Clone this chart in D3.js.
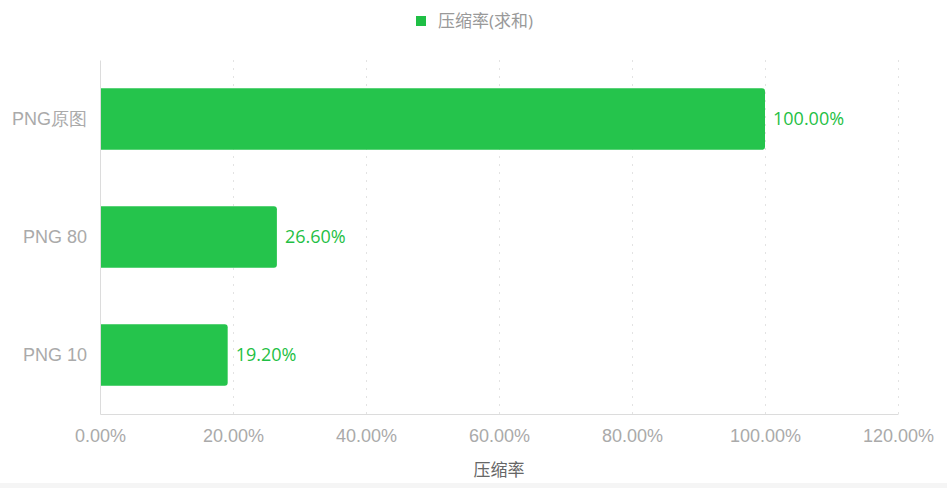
<!DOCTYPE html>
<html>
<head>
<meta charset="utf-8">
<script src="https://cdn.jsdelivr.net/npm/d3@7"></script>
<style>
  html, body { margin: 0; padding: 0; background: #fff; }
  svg { display: block; font-family: "Open Sans", "Noto Sans CJK SC", sans-serif; }
</style>
</head>
<body>
<div id="chart"></div>
<script>
var categories = ["PNG原图", "PNG 80", "PNG 10"];
var values = [100.0, 26.6, 19.2];
var tickValues = [0, 20, 40, 60, 80, 100, 120];
var seriesName = "压缩率(求和)";
var axisTitle = "压缩率";

var width = 947, height = 488;
var margin = {top: 60, right: 49, bottom: 74, left: 100};
var green = "#25c44c";

var svg = d3.select("#chart").append("svg")
  .attr("width", width)
  .attr("height", height);

// grey strip at the bottom of the frame
svg.append("rect")
  .attr("x", 0).attr("y", 483)
  .attr("width", width).attr("height", height - 483)
  .attr("fill", "#f5f5f5");

var x = d3.scaleLinear()
  .domain([0, 120])
  .range([margin.left, width - margin.right]);

var y = d3.scaleBand()
  .domain(categories)
  .range([margin.top, height - margin.bottom])
  .paddingInner(0.48)
  .paddingOuter(0.24);

var fmt = function(d){ return d.toFixed(2) + "%"; };

// grid
svg.append("g")
  .selectAll("line")
  .data(tickValues.slice(1))
  .enter()
  .append("line")
    .attr("x1", function(d){ return x(d) + 0.5; })
    .attr("x2", function(d){ return x(d) + 0.5; })
    .attr("y1", margin.top)
    .attr("y2", height - margin.bottom)
    .attr("stroke", "#e3e3e3")
    .attr("stroke-width", 1)
    .attr("stroke-dasharray", "2,6");

// bars, rounded on the right end only
svg.append("g")
  .selectAll("path")
  .data(values)
  .enter()
  .append("path")
    .attr("fill", green)
    .attr("d", function(d, i){
      var x0 = x(0), x1 = x(d), y0 = y(categories[i]), h = y.bandwidth(), r = 3;
      return "M" + x0 + "," + y0 + "H" + (x1 - r) + "Q" + x1 + "," + y0 + " " + x1 + "," + (y0 + r) +
        "V" + (y0 + h - r) + "Q" + x1 + "," + (y0 + h) + " " + (x1 - r) + "," + (y0 + h) + "H" + x0 + "Z";
    });

// value labels
svg.append("g")
  .selectAll("text")
  .data(values)
  .enter()
  .append("text")
    .attr("x", function(d){ return x(d) + 8; })
    .attr("y", function(d, i){ return y(categories[i]) + y.bandwidth() / 2; })
    .attr("dy", "0.35em")
    .attr("fill", "#1fbf45")
    .attr("font-size", 18)
    .text(fmt);

// axes
var xAxis = svg.append("g")
  .attr("transform", "translate(0," + (height - margin.bottom) + ")")
  .call(d3.axisBottom(x).tickValues(tickValues).tickFormat(fmt).tickSize(0).tickPadding(15));
xAxis.select(".domain").attr("stroke", "#dcdcdc");
xAxis.selectAll("text").attr("fill", "#aaa").attr("font-size", 18).attr("font-family", null);

var yAxis = svg.append("g")
  .attr("transform", "translate(" + margin.left + ",0)")
  .call(d3.axisLeft(y).tickSize(0).tickPadding(13));
yAxis.select(".domain").attr("stroke", "#dcdcdc");
yAxis.selectAll("text").attr("fill", "#aaa").attr("font-size", 18).attr("font-family", null);

// axis title
svg.append("text")
  .attr("x", (margin.left + width - margin.right) / 2)
  .attr("y", 470)
  .attr("dy", "0.35em")
  .attr("text-anchor", "middle")
  .attr("fill", "#666")
  .attr("font-size", 17)
  .text(axisTitle);

// legend
var legend = svg.append("g").attr("transform", "translate(416,16)");
legend.append("rect")
  .attr("width", 10).attr("height", 10)
  .attr("y", 0)
  .attr("fill", "#1fbf45");
legend.append("text")
  .attr("x", 22).attr("y", 5)
  .attr("dy", "0.35em")
  .attr("fill", "#999")
  .attr("font-size", 17)
  .text(seriesName);
</script>
</body>
</html>
